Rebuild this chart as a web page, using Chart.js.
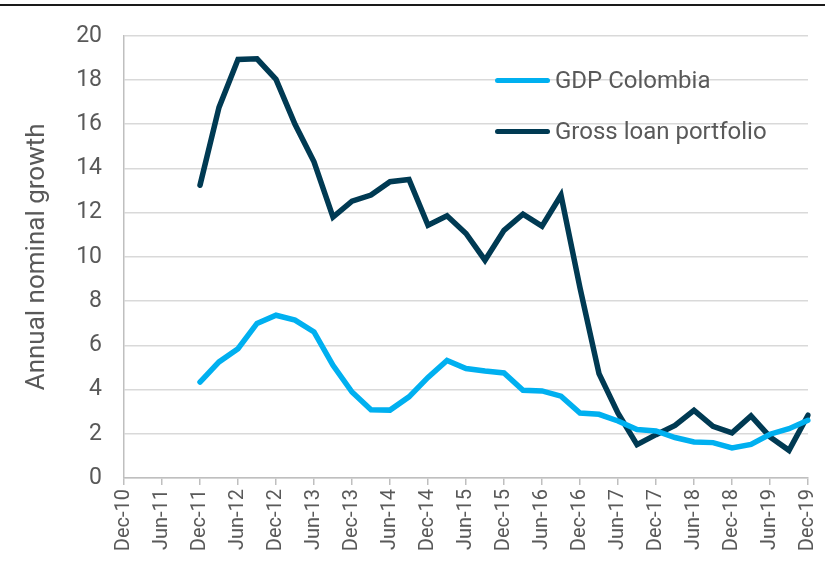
<!DOCTYPE html>
<html>
<head>
<meta charset="utf-8">
<script src="https://cdn.jsdelivr.net/npm/chart.js@4"></script>
<style>
  html, body { margin: 0; padding: 0; background: #fff; }
  #wrap { position: relative; width: 825px; height: 562px; font-family: Roboto, sans-serif; }
  #topRule { position: absolute; left: 0; top: 4px; width: 825px; height: 2px; background: #1a1a1a; }
  .legend-item { position: absolute; left: 495px; height: 26px; display: flex; align-items: center; color: #595959; font-size: 24px; }
  .legend-item .swatch { width: 55px; height: 5px; border-radius: 3px; margin-right: 5px; }
</style>
</head>
<body>
<div id="wrap">
  <div id="topRule"></div>
  <canvas id="growthChart" width="825" height="562"></canvas>
  <div class="legend-item" style="top:67px"><span class="swatch" style="background:#00b0f0"></span>GDP Colombia</div>
  <div class="legend-item" style="top:118px"><span class="swatch" style="background:#003a53"></span>Gross loan portfolio</div>
</div>
<script>
// quarterly periods, labels shown every second one
const quarters = [
  'Dec-10', 'Mar-11', 'Jun-11', 'Sep-11', 'Dec-11', 'Mar-12', 'Jun-12', 'Sep-12',
  'Dec-12', 'Mar-13', 'Jun-13', 'Sep-13', 'Dec-13', 'Mar-14', 'Jun-14', 'Sep-14',
  'Dec-14', 'Mar-15', 'Jun-15', 'Sep-15', 'Dec-15', 'Mar-16', 'Jun-16', 'Sep-16',
  'Dec-16', 'Mar-17', 'Jun-17', 'Sep-17', 'Dec-17', 'Mar-18', 'Jun-18', 'Sep-18',
  'Dec-18', 'Mar-19', 'Jun-19', 'Sep-19', 'Dec-19'
];

const gdpColombia = [
  null, null, null, null,
  4.34, 5.25, 5.85, 6.99, 7.36, 7.14, 6.61, 5.10, 3.89, 3.09, 3.07, 3.67,
  4.55, 5.32, 4.95, 4.84, 4.75, 3.97, 3.94, 3.70, 2.94, 2.88, 2.58, 2.19,
  2.13, 1.83, 1.63, 1.60, 1.36, 1.52, 1.98, 2.23, 2.61
];

const grossLoanPortfolio = [
  null, null, null, null,
  13.24, 16.76, 18.93, 18.96, 18.03, 16.0, 14.3, 11.8, 12.52, 12.8, 13.4, 13.5,
  11.43, 11.86, 11.06, 9.85, 11.2, 11.93, 11.39, 12.79, 8.6, 4.72, 2.93, 1.51,
  1.96, 2.38, 3.06, 2.34, 2.04, 2.81, 1.86, 1.25, 2.84
];

const yTicks = { min: 0, max: 20, step: 2 };

const textGrey = '#595959';
const gridGrey = '#d9d9d9';
const axisGrey = '#bfbfbf';

const ctx = document.getElementById('growthChart').getContext('2d');
new Chart(ctx, {
  type: 'line',
  data: {
    labels: quarters,
    datasets: [
      {
        label: 'GDP Colombia',
        data: gdpColombia,
        borderColor: '#00b0f0',
        borderWidth: 5.5,
        pointRadius: 0,
        tension: 0,
        borderCapStyle: 'round'
      },
      {
        label: 'Gross loan portfolio',
        data: grossLoanPortfolio,
        borderColor: '#003a53',
        borderWidth: 5.5,
        pointRadius: 0,
        tension: 0,
        borderCapStyle: 'round'
      }
    ]
  },
  options: {
    responsive: false,
    animation: false,
    layout: { padding: { top: 23, right: 17, left: 0, bottom: 0 } },
    plugins: {
      legend: { display: false },
      tooltip: { enabled: false }
    },
    scales: {
      x: {
        offset: false,
        grid: { drawOnChartArea: false, drawTicks: true, tickLength: 7, color: axisGrey, lineWidth: 1.5 },
        border: { color: axisGrey, width: 1.5 },
        ticks: {
          autoSkip: false,
          maxRotation: 90,
          minRotation: 90,
          color: textGrey,
          padding: 4,
          font: { family: 'Roboto', size: 20 },
          callback: function (value, index) {
            return index % 2 === 0 ? this.getLabelForValue(value) : null;
          }
        },
        afterFit: (scale) => {
          scale.height = 84;
          scale.paddingLeft = 0;
          scale.paddingRight = 0;
        }
      },
      y: {
        min: yTicks.min,
        max: yTicks.max,
        ticks: {
          stepSize: yTicks.step,
          color: textGrey,
          padding: 22,
          font: { family: 'Roboto', size: 23 }
        },
        grid: { color: gridGrey, lineWidth: 1.5, drawTicks: false },
        border: { color: axisGrey, width: 1.5 },
        title: {
          display: true,
          text: 'Annual nominal growth',
          color: textGrey,
          font: { family: 'Roboto', size: 26 },
          padding: { top: 22, bottom: 0 }
        },
        afterFit: (scale) => { scale.width = 124; }
      }
    }
  }
});
</script>
</body>
</html>
